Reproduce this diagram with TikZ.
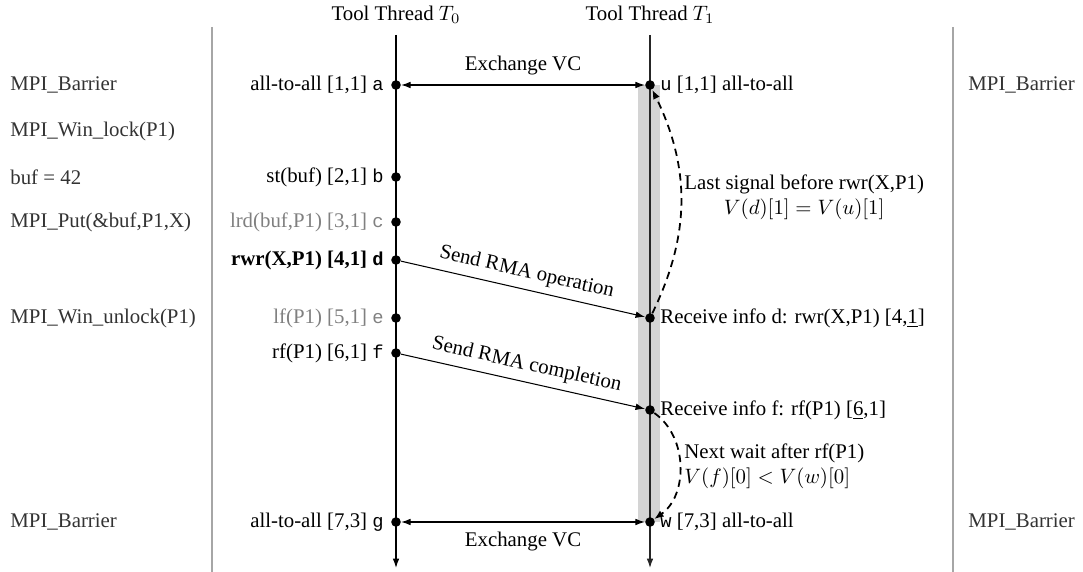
\documentclass[tikz,border=0pt]{standalone}
\usepackage{fontspec}
\setmainfont{Liberation Serif}
\setmonofont{Liberation Mono}
\usetikzlibrary{arrows.meta}
\newcommand{\evid}[1]{{\fontsize{9}{11}\selectfont\texttt{#1}}}
\begin{document}
\begin{tikzpicture}[x=0.48pt,y=-0.48pt,
  font=\fontsize{10}{12}\selectfont,
  ev/.style={circle,fill=black,inner sep=0pt,minimum size=4.6pt},
  thr/.style={line width=0.6pt,-{Latex[length=4.5pt,width=3.2pt]}},
  sepline/.style={line width=0.6pt,black!35},
  xch/.style={line width=0.5pt,{Latex[length=4.5pt,width=3.2pt]}-{Latex[length=4.5pt,width=3.2pt]}},
  msg/.style={line width=0.5pt,-{Latex[length=4.5pt,width=3.2pt]}},
  sig/.style={line width=0.85pt,dash pattern=on 3.5pt off 2.5pt,-{Latex[length=4.5pt,width=3.5pt]}},
  lft/.style={anchor=east,inner sep=0pt},
  rgt/.style={anchor=west,inner sep=0pt},
  code/.style={anchor=west,inner sep=0pt,text=black!80},
  faded/.style={text=black!50}]
\useasboundingbox (0,0) rectangle (1083,572);
% grey band
\fill[black!17] (638,85) rectangle (660,522);
% separators
\coordinate (s1a) at (212,27); \coordinate (s1b) at (212,572);
\coordinate (s2a) at (953,27); \coordinate (s2b) at (953,572);
\draw[sepline] (s1a) -- (s1b);
\draw[sepline] (s2a) -- (s2b);
% headers
\node (h0) at (396,15) {Tool Thread $T_0$};
\node (h1) at (650,15) {Tool Thread $T_1$};
% thread lines
\coordinate (t0s) at (396,35); \coordinate (t0e) at (396,568);
\coordinate (t1s) at (650,35); \coordinate (t1e) at (650,568);
\draw[thr] (t0s) -- (t0e);
\draw[thr,black!85] (t1s) -- (t1e);
% events T0
\node[ev] (a) at (396,85) {};
\node[ev] (b) at (396,177) {};
\node[ev] (c) at (396,222) {};
\node[ev] (d) at (396,260) {};
\node[ev] (e) at (396,318) {};
\node[ev] (f) at (396,353) {};
\node[ev] (g) at (396,522) {};
% events T1
\node[ev] (u) at (650,85) {};
\node[ev] (rd) at (650,318) {};
\node[ev] (rf) at (650,410) {};
\node[ev] (w) at (650,522) {};
% T0 labels
\node[lft] (la) at (384,85) {all-to-all [1,1] \evid{a}};
\node[lft] (lb) at (384,177) {st(buf) [2,1] \evid{b}};
\node[lft,faded] (lc) at (384,222) {lrd(buf,P1) [3,1] \evid{c}};
\node[lft] (ld) at (384,260) {\textbf{rwr(X,P1) [4,1] \evid{d}}};
\node[lft,faded] (le) at (384,318) {lf(P1) [5,1] \evid{e}};
\node[lft] (lf) at (384,353) {rf(P1) [6,1] \evid{f}};
\node[lft] (lg) at (384,522) {all-to-all [7,3] \evid{g}};
% T1 labels
\node[rgt] (lu) at (660,85) {\evid{u} [1,1] all-to-all};
\node[rgt] (lrd) at (660,318) {Receive info d: rwr(X,P1) [4,\underline{1}]};
\node[rgt] (lrf) at (660,410) {Receive info f: rf(P1) [\underline{6},1]};
\node[rgt] (lw) at (660,522) {\evid{w} [7,3] all-to-all};
% code column
\node[code] (m1) at (10,85) {MPI\_Barrier};
\node[code] (m2) at (10,131) {MPI\_Win\_lock(P1)};
\node[code] (m3) at (10,177) {buf = 42};
\node[code] (m4) at (10,222) {MPI\_Put(\&buf,P1,X)};
\node[code] (m5) at (10,318) {MPI\_Win\_unlock(P1)};
\node[code] (m6) at (10,522) {MPI\_Barrier};
\node[code] (m7) at (968,85) {MPI\_Barrier};
\node[code] (m8) at (968,522) {MPI\_Barrier};
% exchanges
\draw[xch] (a) -- (u) node[midway,above=1pt] (x1) {Exchange VC};
\draw[xch] (g) -- (w) node[midway,below=1pt] (x2) {Exchange VC};
% messages
\draw[msg] (d) -- (rd) node[midway,above,sloped] (s1) {Send RMA operation};
\draw[msg] (f) -- (rf) node[midway,above,sloped] (s2) {Send RMA completion};
% dashed signals
\draw[sig] (rd) to[bend right=26] (u);
\draw[sig] (rf) to[bend left=55] (w);
\node[anchor=west,align=center,inner sep=0pt] (n1) at (684,197) {Last signal before rwr(X,P1)\\$V(d)[1]=V(u)[1]$};
\node[anchor=west,align=left,inner sep=0pt] (n2) at (684,466) {Next wait after rf(P1)\\$V(f)[0]<V(w)[0]$};
\end{tikzpicture}
\end{document}
